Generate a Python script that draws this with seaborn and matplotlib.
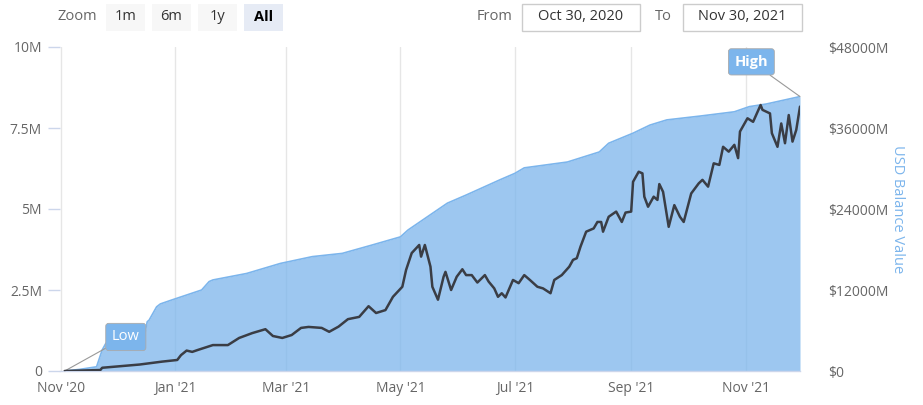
import pandas as pd
import matplotlib
matplotlib.use("Agg")
import matplotlib.pyplot as plt
import matplotlib.dates as mdates
from matplotlib.patches import Rectangle
import seaborn as sns

# balance held (area, left axis, millions)
area_dates = ["2020-11-03", "2020-11-11", "2020-11-20", "2020-11-23", "2020-11-25", "2020-12-15",
              "2020-12-17", "2020-12-18", "2020-12-22", "2020-12-24", "2020-12-30", "2021-01-15",
              "2021-01-19", "2021-01-21", "2021-02-08", "2021-02-26", "2021-03-15", "2021-03-31",
              "2021-04-16", "2021-05-01", "2021-05-05", "2021-05-26", "2021-06-05", "2021-06-23",
              "2021-07-01", "2021-07-06", "2021-07-29", "2021-08-15", "2021-08-20", "2021-09-02",
              "2021-09-11", "2021-09-20", "2021-10-08", "2021-10-26", "2021-11-03", "2021-11-12",
              "2021-11-30"]
area_vals = [0, 0.05, 0.13, 0.65, 0.86, 0.95,
             1.52, 1.57, 1.98, 2.07, 2.19, 2.5,
             2.76, 2.81, 3.01, 3.32, 3.53, 3.63,
             3.89, 4.14, 4.35, 5.18, 5.43, 5.9,
             6.1, 6.27, 6.45, 6.76, 7.03, 7.34,
             7.59, 7.75, 7.87, 8.0, 8.16, 8.24,
             8.47]

# USD balance value (line, right axis, $M)
usd_dates = ["2020-11-03", "2020-11-22", "2020-11-23", "2020-12-13", "2020-12-25", "2021-01-02",
             "2021-01-04", "2021-01-07", "2021-01-10", "2021-01-13", "2021-01-21", "2021-01-29",
             "2021-02-04", "2021-02-11", "2021-02-18", "2021-02-22", "2021-02-27", "2021-03-04",
             "2021-03-09", "2021-03-13", "2021-03-20", "2021-03-24", "2021-03-29", "2021-04-03",
             "2021-04-09", "2021-04-14", "2021-04-18", "2021-04-23", "2021-04-27", "2021-05-02",
             "2021-05-04", "2021-05-07", "2021-05-11", "2021-05-12", "2021-05-14", "2021-05-17",
             "2021-05-18", "2021-05-21", "2021-05-24", "2021-05-25", "2021-05-28", "2021-05-31",
             "2021-06-03", "2021-06-05", "2021-06-08", "2021-06-11", "2021-06-15", "2021-06-17",
             "2021-06-20", "2021-06-22", "2021-06-24", "2021-06-26", "2021-06-30", "2021-07-03",
             "2021-07-06", "2021-07-09", "2021-07-13", "2021-07-16", "2021-07-20", "2021-07-22",
             "2021-07-26", "2021-07-30", "2021-08-01", "2021-08-03", "2021-08-05", "2021-08-08",
             "2021-08-10", "2021-08-12", "2021-08-14", "2021-08-16", "2021-08-17", "2021-08-20",
             "2021-08-24", "2021-08-27", "2021-08-29", "2021-09-01", "2021-09-02", "2021-09-05",
             "2021-09-07", "2021-09-08", "2021-09-10", "2021-09-13", "2021-09-15", "2021-09-16",
             "2021-09-18", "2021-09-21", "2021-09-24", "2021-09-27", "2021-09-29", "2021-10-03",
             "2021-10-07", "2021-10-09", "2021-10-12", "2021-10-15", "2021-10-18", "2021-10-20",
             "2021-10-23", "2021-10-26", "2021-10-28", "2021-10-29", "2021-11-02", "2021-11-05",
             "2021-11-09", "2021-11-10", "2021-11-14", "2021-11-15", "2021-11-18", "2021-11-20",
             "2021-11-22", "2021-11-24", "2021-11-26", "2021-11-28", "2021-11-30"]
usd_vals = [0, 144, 480, 960, 1392, 1632,
            2352, 3024, 2832, 3120, 3840, 3840,
            4896, 5616, 6192, 5184, 4896, 5328,
            6384, 6528, 6384, 5808, 6576, 7680,
            8016, 9600, 8592, 9024, 10992, 12480,
            14976, 17472, 18672, 16944, 18672, 15456,
            12480, 10560, 13968, 14688, 12000, 13968,
            15072, 14208, 14208, 13104, 14208, 13248,
            12240, 10992, 11520, 10896, 13488, 13008,
            14208, 13488, 12480, 12240, 11520, 13488,
            14208, 15456, 16464, 16704, 18432, 20640,
            20880, 21120, 22080, 22080, 20640, 22848,
            23616, 22080, 23472, 23616, 28032, 29520,
            29280, 25824, 24336, 25824, 25344, 27696,
            26544, 21360, 24576, 22848, 22080, 26304,
            27792, 28320, 27312, 30768, 30528, 33216,
            32496, 33504, 31536, 35472, 37440, 36912,
            39408, 38688, 38160, 35232, 33216, 36672,
            33744, 37920, 33984, 35712, 39168]

zoom_buttons = ["1m", "6m", "1y", "All"]
range_from = "Oct 30, 2020"
range_to = "Nov 30, 2021"
left_ticks = [0, 2.5, 5, 7.5, 10]
left_labels = ["0", "2.5M", "5M", "7.5M", "10M"]
right_ticks = [0, 12000, 24000, 36000, 48000]
right_labels = ["$0", "$12000M", "$24000M", "$36000M", "$48000M"]
right_title = "USD Balance Value"

area = pd.DataFrame({"date": pd.to_datetime(area_dates), "value": area_vals})
usd = pd.DataFrame({"date": pd.to_datetime(usd_dates), "value": usd_vals})

sns.set_style("white")
plt.rcParams["font.family"] = ["Open Sans", "DejaVu Sans"]

W, H = 923, 405
fig = plt.figure(figsize=(W / 100, H / 100), dpi=100)


def fx(x):
    return x / W


def fy(y):
    return 1 - y / H


ax = fig.add_axes([fx(60), fy(371), (800 - 60) / W, (371 - 47) / H])

# area series
ax.fill_between(area["date"], area["value"], color="#7cb5ec", alpha=0.75, lw=0, zorder=1)
sns.lineplot(data=area, x="date", y="value", ax=ax, color="#7cb5ec", lw=1.2, zorder=2)

ax.set_xlim(pd.Timestamp("2020-10-31 12:00"), pd.Timestamp("2021-11-30"))
ax.set_ylim(0, 10)
ax.set_yticks(left_ticks)
ax.set_yticklabels(left_labels)
ax.xaxis.set_major_locator(mdates.MonthLocator(bymonth=[1, 3, 5, 7, 9, 11]))
ax.xaxis.set_major_formatter(mdates.DateFormatter("%b '%y"))
ax.grid(axis="x", color="#e6e6e6", lw=1)
ax.grid(axis="y", visible=False)
ax.set_axisbelow(True)
ax.set_xlabel("")
ax.set_ylabel("")
for s in ["top", "right", "left"]:
    ax.spines[s].set_visible(False)
ax.spines["bottom"].set_color("#ccd6eb")
ax.spines["bottom"].set_linewidth(1)
ax.tick_params(axis="x", length=0, pad=7, labelsize=10, labelcolor="#666666")
ax.tick_params(axis="y", length=9, width=1, color="#ccd6eb", pad=4, labelsize=10,
               labelcolor="#666666", left=True)

# USD line on right axis
ax2 = ax.twinx()
sns.lineplot(data=usd, x="date", y="value", ax=ax2, color="#3a3d45", lw=1.8)
ax2.set_ylim(0, 48000)
ax2.set_yticks(right_ticks)
ax2.set_yticklabels(right_labels)
ax2.set_xlabel("")
ax2.set_ylabel(right_title, color="#7cb5ec", fontsize=10.5, rotation=270, labelpad=16)
ax2.yaxis.set_label_coords((905 - 60) / (800 - 60), 0.5)
ax2.grid(False)
for s in ["top", "right", "left", "bottom"]:
    ax2.spines[s].set_visible(False)
ax2.tick_params(axis="y", length=0, pad=20, labelsize=10, labelcolor="#666666")

# Low / High flags
box = dict(boxstyle="round,pad=0.42,rounding_size=0.2", fc="#7cb5ec", ec="#aaaaaa", lw=0.6)
line = dict(arrowstyle="-", color="#999999", lw=0.8, shrinkA=0, shrinkB=0)
ax.annotate("Low", xy=(area["date"].iloc[0], area["value"].iloc[0]), xytext=(44, 24.5),
            textcoords="offset points", ha="center", va="center", color="white",
            fontsize=10.5, bbox=box, arrowprops=line, zorder=5)
ax.annotate("High", xy=(area["date"].iloc[-1], area["value"].iloc[-1]), xytext=(-35, 25),
            textcoords="offset points", ha="center", va="center", color="white",
            fontsize=10.5, fontweight="bold", bbox=box, arrowprops=line, zorder=5,
            annotation_clip=False)

# range selector toolbar
fig.text(fx(58), fy(17), "Zoom", ha="left", va="center", fontsize=10.5, color="#666666")
btn_x = [106, 152, 198, 244]
for lab, bx in zip(zoom_buttons, btn_x):
    sel = lab == "All"
    fig.add_artist(Rectangle((fx(bx), fy(31)), 39 / W, 27 / H, transform=fig.transFigure,
                             fc="#e6ebf5" if sel else "#f7f7f7", ec="none"))
    fig.text(fx(bx + 19.5), fy(17), lab, ha="center", va="center", fontsize=10.5,
             color="#000000" if sel else "#333333", fontweight="bold" if sel else "normal")

fig.text(fx(477), fy(17), "From", ha="left", va="center", fontsize=10.5, color="#666666")
fig.add_artist(Rectangle((fx(522), fy(31)), 118 / W, 27 / H, transform=fig.transFigure,
                         fc="white", ec="#cccccc", lw=1))
fig.text(fx(581), fy(17), range_from, ha="center", va="center", fontsize=10.5, color="#333333")
fig.text(fx(655), fy(17), "To", ha="left", va="center", fontsize=10.5, color="#666666")
fig.add_artist(Rectangle((fx(683), fy(31)), 119 / W, 27 / H, transform=fig.transFigure,
                         fc="white", ec="#cccccc", lw=1))
fig.text(fx(742.5), fy(17), range_to, ha="center", va="center", fontsize=10.5, color="#333333")

fig.savefig("out.png", dpi=100)
